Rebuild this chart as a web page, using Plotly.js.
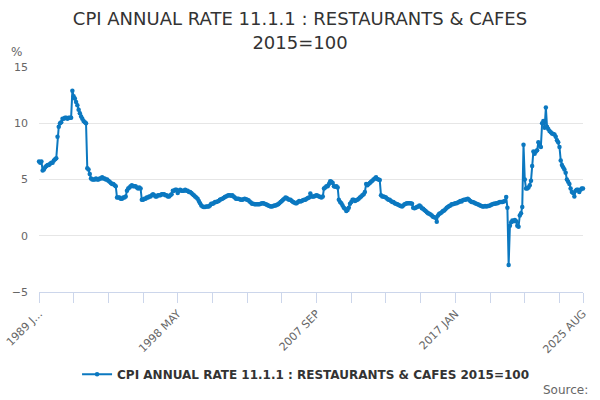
<!DOCTYPE html>
<html>
<head>
<meta charset="utf-8">
<script src="https://cdn.plot.ly/plotly-3.0.1.min.js"></script>
<style>
  html, body { margin: 0; padding: 0; background: #fff; }
  #chart { width: 600px; height: 400px; }
</style>
</head>
<body>
<div id="chart"></div>
<script>
// Monthly CPI annual rate (%), Jan 1989 – Aug 2025
const startYear = 1989;
const v1989 = [6.6, 6.5, 6.6, 5.8, 5.9, 6.1, 6.2, 6.3, 6.3, 6.4, 6.5, 6.5];
const v1990 = [6.7, 6.8, 6.9, 8.8, 9.7, 10.0, 10.1, 10.4, 10.4, 10.5, 10.5, 10.4];
const v1991 = [10.5, 10.5, 10.5, 12.9, 12.4, 12.2, 11.9, 11.6, 11.2, 10.9, 10.6, 10.4];
const v1992 = [10.2, 10.1, 10.0, 6.0, 5.9, 5.5, 5.1, 5.0, 5.0, 5.0, 5.1, 5.0];
const v1993 = [5.0, 5.1, 5.1, 5.2, 5.1, 5.1, 5.0, 5.0, 4.9, 4.8, 4.7, 4.6];
const v1994 = [4.6, 4.5, 4.4, 3.4, 3.4, 3.4, 3.3, 3.3, 3.4, 3.4, 3.5, 4.0];
const v1995 = [4.2, 4.3, 4.4, 4.5, 4.4, 4.4, 4.4, 4.3, 4.2, 4.3, 4.2, 3.2];
const v1996 = [3.2, 3.3, 3.3, 3.4, 3.4, 3.5, 3.5, 3.6, 3.7, 3.6, 3.5, 3.5];
const v1997 = [3.6, 3.6, 3.6, 3.7, 3.7, 3.7, 3.6, 3.6, 3.5, 3.5, 3.6, 3.7];
const v1998 = [4.0, 4.0, 4.1, 4.1, 3.8, 4.0, 4.1, 4.0, 4.0, 4.0, 4.1, 4.0];
const v1999 = [4.0, 3.9, 3.9, 3.8, 3.7, 3.6, 3.5, 3.4, 3.3, 3.1, 2.9, 2.7];
const v2000 = [2.6, 2.55, 2.55, 2.6, 2.6, 2.6, 2.7, 2.85, 2.85, 2.9, 3.0, 3.0];
const v2001 = [3.05, 3.1, 3.2, 3.25, 3.3, 3.35, 3.45, 3.5, 3.55, 3.6, 3.6, 3.55];
const v2002 = [3.6, 3.5, 3.4, 3.3, 3.3, 3.3, 3.25, 3.2, 3.2, 3.25, 3.3, 3.25];
const v2003 = [3.2, 3.15, 3.05, 2.95, 2.85, 2.85, 2.8, 2.8, 2.8, 2.8, 2.8, 2.85];
const v2004 = [2.9, 2.9, 2.85, 2.8, 2.75, 2.7, 2.65, 2.6, 2.6, 2.65, 2.7, 2.7];
const v2005 = [2.75, 2.8, 2.9, 3.0, 3.1, 3.2, 3.3, 3.4, 3.35, 3.25, 3.2, 3.2];
const v2006 = [3.1, 3.0, 2.95, 2.9, 2.9, 3.0, 3.1, 3.05, 3.1, 3.15, 3.2, 3.2];
const v2007 = [3.3, 3.35, 3.4, 3.75, 3.5, 3.5, 3.5, 3.55, 3.6, 3.55, 3.5, 3.45];
const v2008 = [3.4, 3.5, 4.2, 4.3, 4.4, 4.4, 4.6, 4.85, 4.8, 4.7, 4.4, 4.35];
const v2009 = [4.4, 4.3, 3.2, 3.0, 2.9, 2.7, 2.5, 2.4, 2.2, 2.3, 2.5, 2.85];
const v2010 = [3.0, 3.2, 3.2, 3.1, 3.15, 3.2, 3.3, 3.4, 3.5, 3.6, 3.7, 3.9];
const v2011 = [4.6, 4.5, 4.6, 4.7, 4.8, 4.9, 5.0, 5.1, 5.2, 5.05, 5.0, 4.95];
const v2012 = [3.6, 3.5, 3.5, 3.45, 3.4, 3.3, 3.2, 3.2, 3.1, 3.0, 3.0, 2.9];
const v2013 = [2.85, 2.8, 2.75, 2.7, 2.65, 2.6, 2.7, 2.8, 2.85, 2.9, 2.9, 2.9];
const v2014 = [2.9, 2.85, 2.5, 2.45, 2.5, 2.55, 2.6, 2.7, 2.6, 2.45, 2.4, 2.3];
const v2015 = [2.2, 2.1, 2.0, 1.95, 1.9, 1.8, 1.7, 1.65, 1.6, 1.25, 1.8, 1.95];
const v2016 = [2.0, 2.1, 2.2, 2.25, 2.35, 2.5, 2.55, 2.65, 2.7, 2.8, 2.8, 2.85];
const v2017 = [2.9, 2.9, 2.95, 3.0, 3.1, 3.05, 3.15, 3.2, 3.2, 3.25, 3.3, 3.2];
const v2018 = [3.1, 3.0, 3.0, 2.95, 2.9, 2.85, 2.8, 2.75, 2.7, 2.65, 2.6, 2.6];
const v2019 = [2.65, 2.6, 2.65, 2.65, 2.7, 2.75, 2.8, 2.85, 2.85, 2.9, 2.9, 2.95];
const v2020 = [3.0, 3.0, 3.0, 3.05, 3.1, 3.45, 2.5, -2.6, 0.9, 1.2, 1.35, 1.3];
const v2021 = [1.4, 1.3, 0.9, 0.8, 1.8, 2.0, 2.55, 8.1, 5.0, 4.2, 4.2, 4.3];
const v2022 = [4.5, 4.9, 6.2, 7.5, 7.3, 7.5, 7.6, 8.3, 8.0, 7.9, 10.0, 10.2];
const v2023 = [9.6, 11.4, 9.7, 9.5, 9.3, 9.2, 9.1, 9.05, 9.0, 8.8, 8.5, 8.3];
const v2024 = [7.9, 6.7, 6.3, 6.1, 5.9, 5.6, 5.0, 4.8, 4.6, 4.2, 3.9, 3.8];
const v2025 = [3.5, 4.0, 4.1, 4.1, 3.9, 4.1, 4.2, 4.2];

const values = [].concat(v1989, v1990, v1991, v1992, v1993, v1994, v1995, v1996,
  v1997, v1998, v1999, v2000, v2001, v2002, v2003, v2004, v2005, v2006, v2007,
  v2008, v2009, v2010, v2011, v2012, v2013, v2014, v2015, v2016, v2017, v2018,
  v2019, v2020, v2021, v2022, v2023, v2024, v2025);

const monthNames = ["JAN","FEB","MAR","APR","MAY","JUN","JUL","AUG","SEP","OCT","NOV","DEC"];
const dates = values.map((_, i) => {
  const y = startYear + Math.floor(i / 12);
  const m = i % 12 + 1;
  return y + "-" + String(m).padStart(2, "0") + "-01";
});

// Tick positions every 28 months, labels every 112 months, plus the last month
const tickStep = 28;
const labelStep = 112;
const tickIdx = [];
for (let i = 0; i < values.length; i += tickStep) tickIdx.push(i);
tickIdx.push(values.length - 1);
const tickLabels = tickIdx.map((i, k) => {
  const last = (k === tickIdx.length - 1);
  if (!(i % labelStep === 0 || last)) return "";
  const y = startYear + Math.floor(i / 12);
  const txt = y + " " + monthNames[i % 12];
  return i === 0 ? "1989 J..." : txt;
});

const seriesName = "CPI ANNUAL RATE 11.1.1 : RESTAURANTS & CAFES 2015=100";
const lineColor = "#0b78c0";

const trace = {
  x: dates,
  y: values,
  type: "scatter",
  mode: "lines+markers",
  name: "<b>" + seriesName + "</b>",
  line: { color: lineColor, width: 2 },
  marker: { color: lineColor, size: 4.5 },
  cliponaxis: false
};

const layout = {
  width: 600,
  height: 400,
  margin: { l: 39, r: 17, t: 67, b: 108 },
  paper_bgcolor: "#ffffff",
  plot_bgcolor: "#ffffff",
  font: { family: "DejaVu Sans, sans-serif", color: "#666666", size: 11 },
  title: {
    text: "CPI ANNUAL RATE 11.1.1 : RESTAURANTS & CAFES<br>2015=100",
    font: { family: "DejaVu Sans, sans-serif", size: 18, color: "#333333" },
    x: 0.5, xref: "container", xanchor: "center",
    y: 0.937, yref: "container", yanchor: "middle"
  },
  xaxis: {
    type: "date",
    range: [dates[0], dates[dates.length - 1]],
    tickmode: "array",
    tickvals: tickIdx.map(i => dates[i]),
    ticktext: tickLabels,
    tickangle: -45,
    ticks: "outside",
    ticklen: 10,
    tickcolor: "#ccd6eb",
    tickwidth: 1,
    showline: true,
    linecolor: "#ccd6eb",
    linewidth: 1,
    showgrid: false,
    zeroline: false,
    tickfont: { size: 11, color: "#666666" }
  },
  yaxis: {
    range: [-5, 15],
    tickvals: [-5, 0, 5, 10, 15],
    showgrid: true,
    gridcolor: "#e6e6e6",
    zeroline: false,
    showline: false,
    ticks: "",
    ticklabelstandoff: 10,
    tickfont: { size: 11, color: "#666666" }
  },
  showlegend: true,
  legend: {
    orientation: "h",
    x: 0.49, xanchor: "center",
    y: -0.365, yanchor: "middle",
    font: { size: 12, color: "#333333" }
  },
  annotations: [
    {
      text: "%", xref: "paper", yref: "paper",
      x: -0.055, y: 1.067, xanchor: "left", yanchor: "middle",
      showarrow: false, font: { size: 12, color: "#666666" }
    },
    {
      text: "Source:", xref: "paper", yref: "paper",
      x: 1.013, y: -0.436, xanchor: "right", yanchor: "middle",
      showarrow: false, font: { size: 12, color: "#666666" }
    }
  ]
};

Plotly.newPlot("chart", [trace], layout, { staticPlot: true, displayModeBar: false });
</script>
</body>
</html>
